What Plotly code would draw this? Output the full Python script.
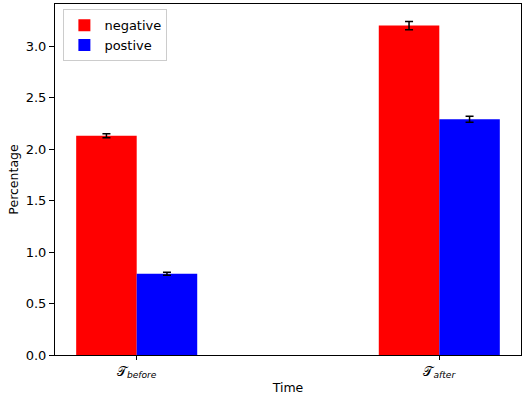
import plotly.graph_objects as go

positions = [0, 1]
tick_labels = ["𝒯<sub><i>before</i></sub>", "𝒯<sub><i>after</i></sub>"]
negative = [2.13, 3.20]
negative_err = [0.02, 0.04]
positive = [0.79, 2.29]
positive_err = [0.015, 0.03]

font = dict(family="DejaVu Sans", size=12.5, color="black")

fig = go.Figure()
fig.add_trace(go.Bar(
    x=positions, y=negative, name="negative", width=0.2, offset=-0.2,
    marker=dict(color="red", line=dict(width=0)),
    error_y=dict(type="data", array=negative_err, color="black", thickness=1.5, width=4),
))
fig.add_trace(go.Bar(
    x=positions, y=positive, name="postive", width=0.2, offset=0.0,
    marker=dict(color="blue", line=dict(width=0)),
    error_y=dict(type="data", array=positive_err, color="black", thickness=1.5, width=4),
))

fig.update_layout(
    width=522, height=395,
    margin=dict(l=55, r=1, t=4, b=40, autoexpand=False),
    paper_bgcolor="white", plot_bgcolor="white",
    font=font,
    barmode="overlay",
    showlegend=True,
    legend=dict(x=0.018, y=0.985, xanchor="left", yanchor="top",
                bgcolor="rgba(255,255,255,0.8)", bordercolor="#cccccc", borderwidth=1,
                font=dict(family="DejaVu Sans", size=13), itemwidth=30),
    xaxis=dict(
        range=[-0.27, 1.27], tickmode="array", tickvals=positions, ticktext=tick_labels,
        showline=True, linecolor="black", linewidth=1, mirror=True, automargin=False,
        ticks="outside", ticklen=4, tickcolor="black", showgrid=False, zeroline=False,
        title=dict(text="Time", standoff=4, font=dict(size=12.5)),
        tickfont=dict(size=13),
    ),
    yaxis=dict(
        range=[0, 3.41], tickmode="array", tickvals=[0, 0.5, 1.0, 1.5, 2.0, 2.5, 3.0],
        tickformat=".1f", automargin=False,
        showline=True, linecolor="black", linewidth=1, mirror=True,
        ticks="outside", ticklen=5, tickcolor="black", showgrid=False, zeroline=False,
        title=dict(text="Percentage", standoff=4, font=dict(size=12.5)),
        tickfont=dict(size=13),
    ),
)

fig.write_html("out.html", post_script="document.body.style.margin='0px';",
               config={"displayModeBar": False})
